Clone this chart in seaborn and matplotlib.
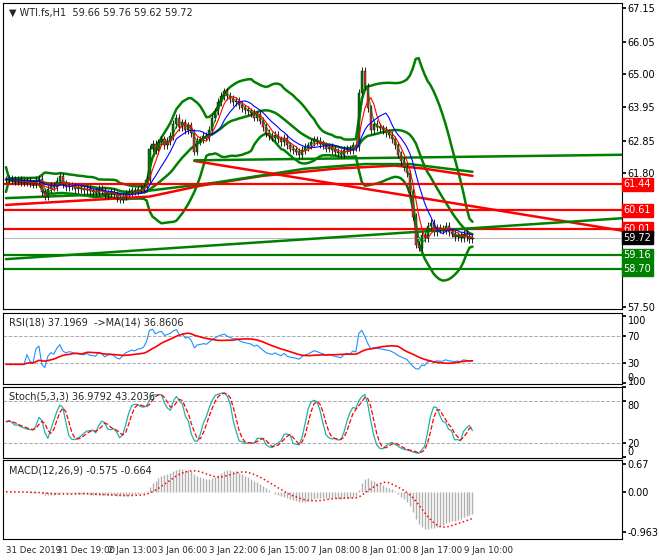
import numpy as np
import pandas as pd
import matplotlib
matplotlib.use("Agg")
import matplotlib.pyplot as plt
import seaborn as sns

sns.set_theme(style="white")
plt.rcParams['font.family'] = ['DejaVu Sans']

closes = [61.60, 61.62, 61.58, 61.55, 61.60, 61.52, 61.50, 61.55, 61.48, 61.45, 61.58, 61.62,
          61.20, 61.05, 61.30, 61.40, 61.35, 61.55, 61.70, 61.45, 61.35,
          61.40, 61.38, 61.30, 61.32, 61.28, 61.25, 61.30, 61.22, 61.20, 61.18,
          61.30, 61.25, 61.10, 61.15, 61.20, 61.12, 61.00, 60.95, 61.05, 61.15,
          61.20, 61.25, 61.22, 61.28, 61.30, 61.35, 61.60,
          62.60, 62.75, 62.55, 62.80, 62.90, 62.70, 62.85, 63.00,
          63.40, 63.60, 63.30, 63.45, 63.20, 63.35, 63.10, 62.50,
          62.85, 62.90, 63.00, 62.95, 63.20, 63.60, 63.80, 64.10, 64.30,
          64.45, 64.30, 64.20, 64.10, 64.15, 64.00, 63.90, 63.85,
          63.80, 63.75, 63.60, 63.70, 63.50, 63.30, 63.10, 63.00, 62.95, 63.05,
          62.90, 62.80, 62.95, 62.70, 62.60, 62.55, 62.50, 62.40, 62.55, 62.65,
          62.70, 62.80, 62.90, 62.85, 62.75, 62.70, 62.60, 62.65, 62.55, 62.50,
          62.45, 62.40, 62.55, 62.60, 62.55, 62.70, 62.65,
          64.40, 65.10, 64.60, 63.90, 63.20, 63.40, 63.30, 63.25,
          63.20, 63.10, 63.05, 62.90, 62.70, 62.40, 62.20, 62.00, 61.80, 61.20,
          60.40, 59.50, 59.40, 59.80, 59.70, 60.10, 60.20, 59.90, 60.05, 60.00,
          59.95, 60.10, 59.90, 59.85, 59.75, 59.80, 59.70, 59.85, 59.75, 59.68, 59.72]

red_levels = [61.44, 60.61, 60.01]
green_levels = [59.16, 58.70]
last_price = 59.72

slow_red_x = [0, 30, 48, 65, 86, 110, 130, 140, 156]
slow_red_y = [60.78, 60.95, 61.05, 61.40, 61.72, 61.95, 62.05, 61.95, 61.72]
slow_green_x = [0, 40, 70, 100, 120, 135, 156]
slow_green_y = [61.00, 61.15, 61.50, 61.95, 62.10, 62.10, 61.85]

trend_red = ([63, 206], [62.20, 59.95])
trend_green = ([0, 206], [59.03, 60.35])
hline_green = ([63, 206], [62.22, 62.40])

price_ticks = [67.15, 66.05, 65.00, 63.95, 62.85, 61.80, 58.60, 57.50]
xtick_bars = [0, 17, 34, 51, 68, 85, 102, 119, 136, 153]
xtick_labels = ["31 Dec 2019", "31 Dec 19:00", "2 Jan 13:00", "3 Jan 06:00", "3 Jan 22:00",
                "6 Jan 15:00", "7 Jan 08:00", "8 Jan 01:00", "8 Jan 17:00", "9 Jan 10:00"]

c = pd.Series(closes)
o = c.shift(1).fillna(c.iloc[0])
h = np.maximum(o, c) + 0.12
l = np.minimum(o, c) - 0.12
x = np.arange(len(c))

W, H = 660, 560
fig = plt.figure(figsize=(6.6, 5.6), dpi=100)
def ax_at(top, bot):
    return fig.add_axes([3 / W, 1 - bot / H, 619 / W, (bot - top) / H])

ax = ax_at(3, 309)
ax_r = ax_at(313, 384)
ax_s = ax_at(387, 458)
ax_m = ax_at(460, 539)

def finish(a):
    a.set_xlim(-1, 206)
    a.set_xlabel(""); a.set_ylabel("")
    a.set_facecolor("white")
    for s in a.spines.values():
        s.set_color("black"); s.set_linewidth(0.8)
    a.yaxis.tick_right()
    a.tick_params(axis="y", labelsize=7, length=3, pad=1, colors="black")
    a.tick_params(axis="x", length=0)
    a.set_xticks([])

# main panel
ma20 = c.rolling(20, min_periods=1).mean()
sd20 = c.rolling(20, min_periods=2).std().fillna(0.2)
sns.lineplot(x=x, y=ma20 + 2 * sd20, ax=ax, color="green", lw=1.8)
sns.lineplot(x=x, y=ma20 - 2 * sd20, ax=ax, color="green", lw=1.8)
sns.lineplot(x=x, y=ma20, ax=ax, color="green", lw=1.8)
ax.plot(slow_red_x, slow_red_y, color="red", lw=1.8)
ax.plot(slow_green_x, slow_green_y, color="green", lw=1.8)
for lv in red_levels:
    ax.axhline(lv, color="red", lw=1.6)
for lv in green_levels:
    ax.axhline(lv, color="green", lw=1.6)
ax.axhline(last_price, color="#bbbbbb", lw=0.8)
ax.plot(*trend_red, color="red", lw=1.8)
ax.plot(*trend_green, color="green", lw=1.8)
ax.plot(*hline_green, color="green", lw=1.8)

for i in x:
    up = c[i] >= o[i]
    col = "green" if up else "#e03030"
    ax.vlines(i, l[i], h[i], color="black", lw=0.6, zorder=4)
    ax.bar(i, max(abs(c[i] - o[i]), 0.02), bottom=min(c[i], o[i]), width=0.7,
           color=col, edgecolor="black", lw=0.3, zorder=5)
sns.lineplot(x=x, y=c.rolling(3, min_periods=1).mean(), ax=ax, color="green", lw=0.7, zorder=6)
sns.lineplot(x=x, y=c.rolling(5, min_periods=1).mean(), ax=ax, color="red", lw=0.8, zorder=6)
sns.lineplot(x=x, y=c.rolling(10, min_periods=1).mean(), ax=ax, color="blue", lw=0.8, zorder=6)
finish(ax)
ax.set_ylim(57.42, 67.3)
ax.set_yticks(price_ticks)
ax.set_yticklabels([f"{v:.2f}" for v in price_ticks])

for lv, col in [(61.44, "red"), (60.61, "red"), (60.01, "red"), (59.72, "black"),
                (59.16, "green"), (58.70, "green")]:
    ax.text(1.0025, lv, f"{lv:.2f}", transform=ax.get_yaxis_transform(), fontsize=7,
            color="white", va="center", ha="left",
            bbox=dict(boxstyle="square,pad=0.15", fc=col, ec=col), zorder=10, clip_on=False)
ax.text(0.01, 0.985, "▼ WTI.fs,H1  59.66 59.76 59.62 59.72", transform=ax.transAxes,
        fontsize=7, va="top", ha="left")

# RSI
d = c.diff().fillna(0)
gain = d.clip(lower=0).ewm(alpha=1 / 18, adjust=False).mean()
loss = (-d.clip(upper=0)).ewm(alpha=1 / 18, adjust=False).mean()
rsi = (100 - 100 / (1 + gain / loss.replace(0, 1e-6)))
rsi = rsi.where(x >= 6).bfill()
rsi_ma = rsi.rolling(14, min_periods=1).mean()
for lv in (30, 70):
    ax_r.axhline(lv, color="#aaaaaa", ls="--", lw=0.7)
sns.lineplot(x=x, y=rsi, ax=ax_r, color="dodgerblue", lw=0.8)
sns.lineplot(x=x, y=rsi_ma, ax=ax_r, color="red", lw=1.2)
ax_r.text(0.01, 0.93, "RSI(18) 37.1969  ->MA(14) 36.8606", transform=ax_r.transAxes,
          fontsize=7, va="top")
finish(ax_r)
ax_r.set_ylim(-1, 104)
ax_r.set_yticks([0, 30, 70, 100])
ax_r.set_yticklabels(["0", "30", "70", "100"])
ax_r.get_yticklabels()[0].set_va("bottom")
ax_r.get_yticklabels()[3].set_va("top")

# Stochastic
ll = pd.Series(l).rolling(5, min_periods=1).min()
hh = pd.Series(h).rolling(5, min_periods=1).max()
k = (100 * (c - ll) / (hh - ll)).rolling(3, min_periods=1).mean()
dd = k.rolling(3, min_periods=1).mean()
for lv in (20, 80):
    ax_s.axhline(lv, color="#aaaaaa", ls="--", lw=0.7)
sns.lineplot(x=x, y=k, ax=ax_s, color="lightseagreen", lw=0.9)
ax_s.plot(x, dd, color="red", ls="--", lw=0.9)
ax_s.text(0.01, 0.93, "Stoch(5,3,3) 36.9792 43.2036", transform=ax_s.transAxes,
          fontsize=7, va="top")
finish(ax_s)
ax_s.set_ylim(-2, 100)
ax_s.set_yticks([0, 20, 80, 100])
ax_s.set_yticklabels(["0", "20", "80", "100"])
ax_s.get_yticklabels()[0].set_va("bottom")
ax_s.get_yticklabels()[2].set_va("top")
ax_s.get_yticklabels()[3].set_va("bottom")

# MACD
macd = c.ewm(span=12, adjust=False).mean() - c.ewm(span=26, adjust=False).mean()
sig = macd.rolling(9, min_periods=1).mean()
ax_m.vlines(x, 0, macd, color="#b0b0b0", lw=1.0)
ax_m.plot(x, sig, color="red", ls=":", lw=1.1)
ax_m.text(0.01, 0.93, "MACD(12,26,9) -0.575 -0.664", transform=ax_m.transAxes,
          fontsize=7, va="top")
finish(ax_m)
ax_m.set_ylim(-1.125, 0.76)
ax_m.set_yticks([0.67, 0.0, -0.963])
ax_m.set_yticklabels(["0.67", "0.00", "-0.963"])
ax_m.set_xticks(xtick_bars)
ax_m.set_xticklabels(xtick_labels, fontsize=6.2, ha="left")
ax_m.tick_params(axis="x", length=3, pad=2)

fig.savefig("out.png", dpi=100, facecolor="white")
